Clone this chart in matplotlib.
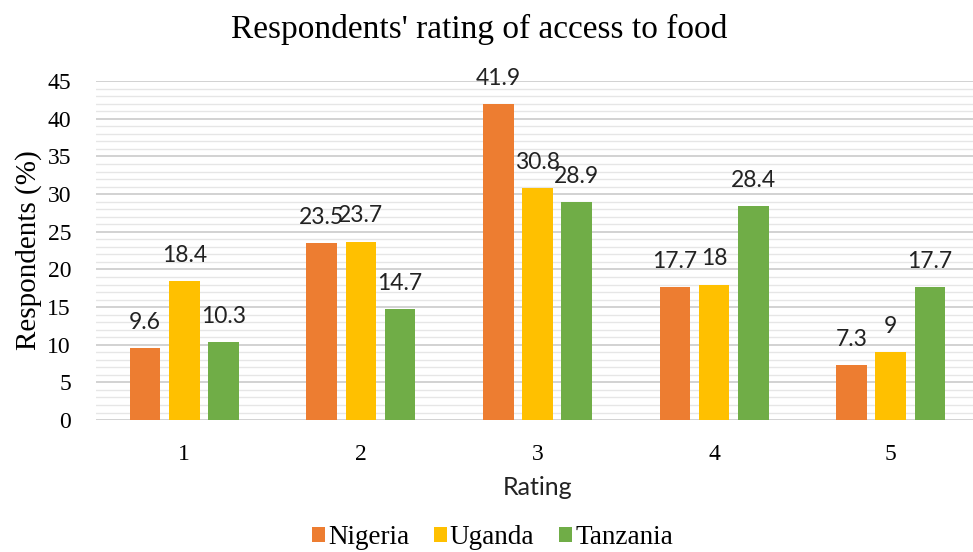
import matplotlib
matplotlib.use("Agg")
import matplotlib.pyplot as plt
from matplotlib.ticker import MultipleLocator
import numpy as np

categories = ["1", "2", "3", "4", "5"]
series_names = ["Nigeria", "Uganda", "Tanzania"]
nigeria = [9.6, 23.5, 41.9, 17.7, 7.3]
uganda = [18.4, 23.7, 30.8, 18, 9]
tanzania = [10.3, 14.7, 28.9, 28.4, 17.7]
colors = ["#ED7D31", "#FFC000", "#70AD47"]

serif = ["Liberation Serif", "DejaVu Serif"]
sans = ["Lato", "DejaVu Sans"]

fig = plt.figure(figsize=(9.73, 5.52), dpi=100)
ax = fig.add_axes([0.0987, 0.239, 0.9075, 0.614])

x = np.arange(1, len(categories) + 1)
width = 0.173
step = 0.222
for i, (name, vals, c) in enumerate(zip(series_names, [nigeria, uganda, tanzania], colors)):
    pos = x + (i - 1) * step
    ax.bar(pos, vals, width=width, color=c, label=name, zorder=3)
    for xb, v in zip(pos, vals):
        ax.annotate(f"{v:g}", (xb, v), xytext=(0, 18.5), textcoords="offset points",
                    ha="center", va="center", fontsize=16.5, family=sans, color="#222222",
                    zorder=4)

ax.set_xlim(0.5, 5.5)
ax.set_ylim(0, 45)
ax.yaxis.set_major_locator(MultipleLocator(5))
ax.yaxis.set_minor_locator(MultipleLocator(1))
ax.grid(axis="y", which="major", color="#CFCFCF", linewidth=1.3, zorder=0)
ax.grid(axis="y", which="minor", color="#E6E6E6", linewidth=1.0, zorder=0)
ax.set_axisbelow(True)
for s in ["top", "right", "left", "bottom"]:
    ax.spines[s].set_visible(False)
ax.tick_params(axis="both", which="both", length=0)
ax.tick_params(axis="y", pad=18)
ax.tick_params(axis="x", pad=17)
ax.set_xticks(x)
ax.set_xticklabels(categories, fontsize=17, family=serif)
for lbl in ax.get_yticklabels():
    lbl.set_fontsize(17)
    lbl.set_family(serif)

ax.set_ylabel("Respondents (%)", fontsize=21, family=serif, labelpad=4)
ax.set_xlabel("Rating", fontsize=18, family=sans, labelpad=8, color="#222222")

fig.text(0.4925, 0.947, "Respondents' rating of access to food", ha="center", va="center",
         fontsize=24, family=serif)

fig.legend(loc="center", bbox_to_anchor=(0.506, 0.026), ncol=3, frameon=False,
           prop={"family": serif, "size": 19.5}, handlelength=0.5, handleheight=0.45,
           handletextpad=0.1, columnspacing=0.9, borderaxespad=0, borderpad=0.1)

fig.savefig("out.png", dpi=100)
